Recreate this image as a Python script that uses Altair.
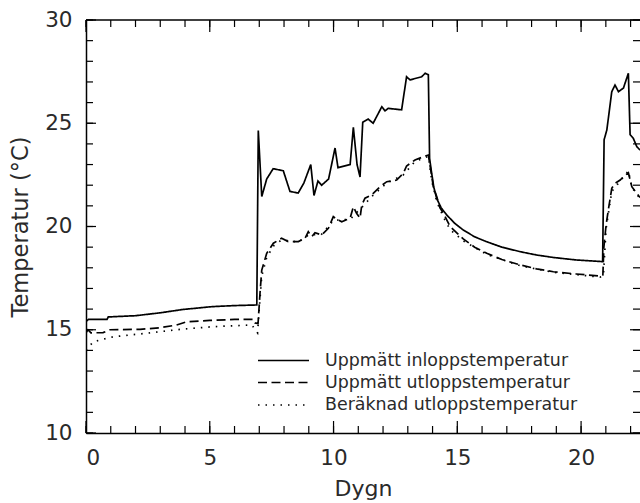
import altair as alt
import pandas as pd

# ---- data ----
inlet_day = [0, 0.1, 0.85, 0.9, 2.0, 3.0, 3.9, 4.5, 5.1, 6.0, 6.9, 6.96, 7.1, 7.3, 7.56, 7.97,
             8.24, 8.57, 8.8, 9.08, 9.21, 9.37, 9.52, 9.8, 10.06, 10.18, 10.67, 10.8, 10.95,
             11.07, 11.18, 11.4, 11.6, 11.95, 12.08, 12.21, 12.75, 12.95, 13.09, 13.56, 13.7,
             13.83, 13.88, 13.95, 14.05, 14.17, 14.35, 14.57, 14.9, 15.24, 15.7, 16.19, 16.8,
             17.54, 18.2, 18.88, 19.8, 20.87, 20.93, 21.04, 21.24, 21.37, 21.51, 21.71, 21.91,
             21.98, 22.11, 22.25, 22.38]
inlet_temp = [15.4, 15.5, 15.5, 15.62, 15.68, 15.82, 15.98, 16.05, 16.12, 16.17, 16.2, 24.65,
              21.45, 22.3, 22.8, 22.7, 21.7, 21.62, 22.1, 23.0, 21.5, 22.2, 22.0, 22.3, 23.8,
              22.85, 23.0, 24.8, 23.0, 22.4, 25.05, 25.2, 25.0, 25.8, 25.6, 25.72, 25.65, 27.25,
              27.1, 27.25, 27.42, 27.35, 23.3, 22.7, 21.9, 21.35, 20.9, 20.56, 20.15, 19.83,
              19.5, 19.26, 19.0, 18.78, 18.62, 18.5, 18.38, 18.3, 24.2, 24.67, 26.53, 26.85,
              26.53, 26.7, 27.42, 24.45, 24.27, 23.87, 23.7]

outlet_day = [0, 0.08, 0.2, 0.69, 0.97, 2.18, 3.0, 3.66, 4.07, 5.0, 6.0, 6.76, 6.83, 6.95,
              7.03, 7.1, 7.3, 7.57, 7.9, 8.17, 8.58, 8.85, 8.98, 9.12, 9.25, 9.52, 9.79, 9.99,
              10.13, 10.33, 10.67, 10.8, 10.93, 11.07, 11.14, 11.27, 11.54, 11.88, 12.15, 12.55,
              12.82, 12.95, 13.29, 13.63, 13.83, 13.97, 14.03, 14.17, 14.3, 14.44, 14.71, 15.24,
              15.7, 16.19, 16.8, 17.54, 18.2, 18.88, 19.8, 20.77, 20.88, 20.92, 21.01, 21.1,
              21.24, 21.37, 21.58, 21.71, 21.91, 22.05, 22.25, 22.38]
outlet_temp = [14.85, 15.0, 14.85, 14.86, 15.0, 15.02, 15.1, 15.23, 15.39, 15.45, 15.5, 15.5,
               15.33, 15.3, 16.78, 17.89, 18.7, 19.19, 19.43, 19.27, 19.27, 19.43, 19.75, 19.51,
               19.7, 19.59, 19.91, 20.48, 20.35, 20.23, 20.4, 20.96, 20.64, 20.4, 21.04, 21.37,
               21.53, 21.93, 22.17, 22.25, 22.58, 22.93, 23.22, 23.38, 23.46, 22.41, 21.93,
               21.44, 20.9, 20.64, 20.0, 19.4, 19.0, 18.7, 18.4, 18.14, 17.95, 17.81, 17.7,
               17.6, 17.65, 19.0, 20.07, 20.8, 21.85, 22.09, 22.25, 22.41, 22.6, 21.93, 21.61,
               21.4]

calc_day = [0, 0.29, 1.1, 2.45, 3.8, 5.14, 6.7, 6.93, 7.03, 7.1, 7.3, 7.57, 7.9, 8.58, 9.0,
            9.5, 10.0, 10.67, 11.2, 11.54, 12.15, 12.82, 13.29, 13.83, 13.97, 14.17, 14.44,
            14.71, 15.24, 16.19, 17.54, 18.88, 20.77, 20.9, 21.01, 21.24, 21.58, 21.91, 22.05,
            22.38]
calc_temp = [14.0, 14.42, 14.66, 14.83, 15.02, 15.15, 15.23, 14.85, 16.5, 17.6, 18.5, 19.05,
             19.35, 19.25, 19.6, 19.6, 20.3, 20.35, 21.0, 21.45, 22.1, 22.5, 23.15, 23.4, 22.2,
             21.2, 20.45, 19.85, 19.3, 18.65, 18.1, 17.78, 17.55, 17.6, 19.9, 21.7, 22.2, 22.7,
             21.9, 21.35]

series_names = ["Uppmätt inloppstemperatur", "Uppmätt utloppstemperatur",
                "Beräknad utloppstemperatur"]
series_dash = [[1, 0], [9, 4.5], [1.5, 6]]

x_major = [0, 5, 10, 15, 20]
x_minor = list(range(0, 23))
y_major = [10, 15, 20, 25, 30]
y_minor = list(range(10, 31))

# ---- layout ----
W, H = 554, 413
XDOM = [0, 22.38]
YDOM = [10, 30]
FONT = "DejaVu Sans"
TXT = "#2a2a2a"

frames = []
for name, d, t in zip(series_names, [inlet_day, outlet_day, calc_day],
                      [inlet_temp, outlet_temp, calc_temp]):
    frames.append(pd.DataFrame({"day": d, "temp": t, "series": name}))
df = pd.concat(frames, ignore_index=True)

xs = alt.Scale(domain=XDOM, nice=False, zero=False)
ys = alt.Scale(domain=YDOM, nice=False, zero=False)

x_axis = alt.Axis(values=x_major, ticks=False, grid=False, domain=True, domainColor="black",
                  domainWidth=1.5, labelFont=FONT, labelFontSize=21.5, labelColor=TXT,
                  labelPadding=14, title="Dygn", titleFont=FONT, titleFontSize=22,
                  titleFontWeight="normal", titleColor=TXT, titleBaseline="alphabetic",
                  titleY=62, titleX=W / 2, format="d")
y_axis = alt.Axis(values=y_major, ticks=False, grid=False, domain=True, domainColor="black",
                  domainWidth=1.5, labelFont=FONT, labelFontSize=21.5, labelColor=TXT,
                  labelPadding=14, title="Temperatur (°C)", titleFont=FONT, titleFontSize=22.5,
                  titleFontWeight="normal", titleColor=TXT, titleX=-66, titleY=H / 2,
                  titleBaseline="middle", titleAngle=270, format="d")

lines = alt.Chart(df).mark_line(color="black", strokeWidth=1.7, clip=True).encode(
    x=alt.X("day:Q", scale=xs, axis=x_axis),
    y=alt.Y("temp:Q", scale=ys, axis=y_axis),
    strokeDash=alt.StrokeDash("series:N", scale=alt.Scale(domain=series_names, range=series_dash),
                              legend=None),
    order="day:Q",
)

# top frame line
top_line = alt.Chart(pd.DataFrame({"v": [0]})).mark_rule(color="black", strokeWidth=1.5).encode(
    x=alt.value(0), x2=alt.value(W), y=alt.value(0))

# inward ticks
xmin_df = pd.DataFrame({"t": x_minor})
xmaj_df = pd.DataFrame({"t": x_major})
ymin_df = pd.DataFrame({"t": y_minor})
ymaj_df = pd.DataFrame({"t": y_major})

def xticks(data, length):
    b = alt.Chart(data).mark_rule(color="black", strokeWidth=1.2).encode(
        x=alt.X("t:Q", scale=xs), y=alt.value(H), y2=alt.value(H - length))
    t = alt.Chart(data).mark_rule(color="black", strokeWidth=1.2).encode(
        x=alt.X("t:Q", scale=xs), y=alt.value(0), y2=alt.value(length))
    return [b, t]

def yticks(data, length):
    l = alt.Chart(data).mark_rule(color="black", strokeWidth=1.2).encode(
        y=alt.Y("t:Q", scale=ys), x=alt.value(0), x2=alt.value(length))
    r = alt.Chart(data).mark_rule(color="black", strokeWidth=1.2).encode(
        y=alt.Y("t:Q", scale=ys), x=alt.value(W), x2=alt.value(W - length))
    return [l, r]

tick_layers = xticks(xmin_df, 7) + xticks(xmaj_df, 12) + yticks(ymin_df, 7) + yticks(ymaj_df, 10)

# manual legend
legend_layers = []
row_y = [340.5, 362.5, 385]
for name, dash, ry in zip(series_names, series_dash, row_y):
    ldf = pd.DataFrame({"label": [name]})
    legend_layers.append(alt.Chart(ldf).mark_rule(color="black", strokeWidth=1.7,
                                                  strokeDash=dash).encode(
        x=alt.value(172), x2=alt.value(223), y=alt.value(ry)))
    legend_layers.append(alt.Chart(ldf).mark_text(align="left", baseline="middle", font=FONT,
                                                  fontSize=17.4, color=TXT).encode(
        x=alt.value(239), y=alt.value(ry), text="label:N"))

chart = alt.layer(lines, top_line, *tick_layers, *legend_layers).properties(
    width=W, height=H,
    autosize=alt.AutoSizeParams(type="none"),
    padding={"left": 86, "top": 20, "right": 0, "bottom": 70},
    background="white",
).configure_view(stroke=None)

chart.save("out.html", embed_options={"renderer": "svg", "actions": False})
